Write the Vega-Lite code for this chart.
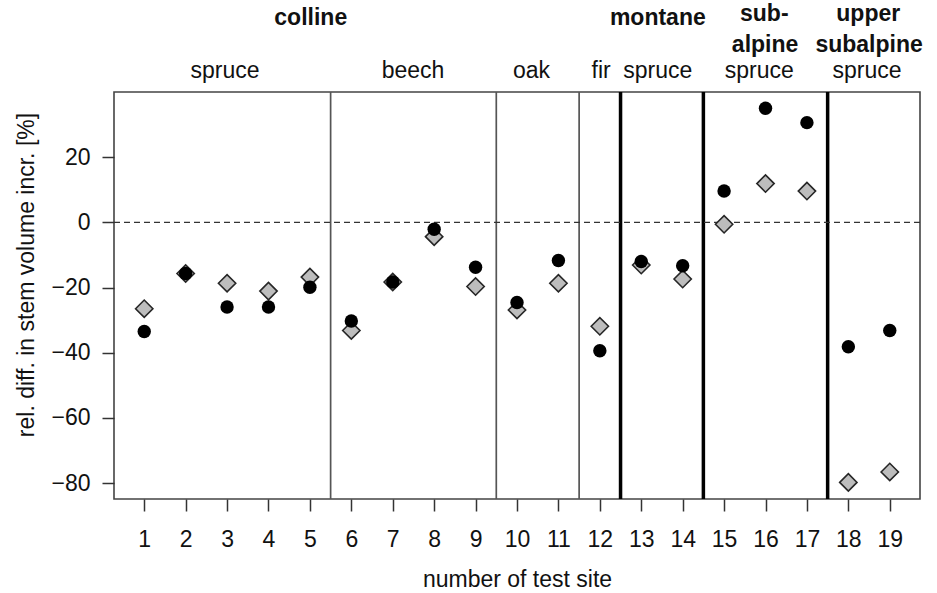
{
  "$schema": "https://vega.github.io/schema/vega-lite/v6.json",
  "width": 806,
  "height": 407,
  "autosize": {"type": "none"},
  "padding": {"left": 114, "top": 92, "right": 17, "bottom": 94},
  "background": "white",
  "config": {
    "view": {"stroke": "#444444", "strokeWidth": 1.6},
    "font": "Liberation Sans",
    "axis": {
      "labelFont": "Liberation Sans",
      "titleFont": "Liberation Sans",
      "labelFontSize": 23,
      "titleFontSize": 23,
      "titleFontWeight": "normal",
      "labelColor": "#111111",
      "titleColor": "#111111",
      "domain": false,
      "grid": false,
      "tickColor": "#333333",
      "tickWidth": 1.5,
      "tickSize": 12
    }
  },
  "datasets": {
    "points": [
      {"site": 1, "series": "circle", "value": -33.5},
      {"site": 2, "series": "circle", "value": -15.7},
      {"site": 3, "series": "circle", "value": -26.0},
      {"site": 4, "series": "circle", "value": -26.0},
      {"site": 5, "series": "circle", "value": -19.9},
      {"site": 6, "series": "circle", "value": -30.3},
      {"site": 7, "series": "circle", "value": -18.3},
      {"site": 8, "series": "circle", "value": -2.1},
      {"site": 9, "series": "circle", "value": -13.8},
      {"site": 10, "series": "circle", "value": -24.6},
      {"site": 11, "series": "circle", "value": -11.7},
      {"site": 12, "series": "circle", "value": -39.4},
      {"site": 13, "series": "circle", "value": -12.0},
      {"site": 14, "series": "circle", "value": -13.3},
      {"site": 15, "series": "circle", "value": 9.6},
      {"site": 16, "series": "circle", "value": 35.0},
      {"site": 17, "series": "circle", "value": 30.6},
      {"site": 18, "series": "circle", "value": -38.2},
      {"site": 19, "series": "circle", "value": -33.2},
      {"site": 1, "series": "diamond", "value": -26.5},
      {"site": 2, "series": "diamond", "value": -15.7},
      {"site": 3, "series": "diamond", "value": -18.7},
      {"site": 4, "series": "diamond", "value": -21.1},
      {"site": 5, "series": "diamond", "value": -16.8},
      {"site": 6, "series": "diamond", "value": -33.2},
      {"site": 7, "series": "diamond", "value": -18.3},
      {"site": 8, "series": "diamond", "value": -4.4},
      {"site": 9, "series": "diamond", "value": -19.7},
      {"site": 10, "series": "diamond", "value": -26.9},
      {"site": 11, "series": "diamond", "value": -18.7},
      {"site": 12, "series": "diamond", "value": -31.9},
      {"site": 13, "series": "diamond", "value": -13.1},
      {"site": 14, "series": "diamond", "value": -17.4},
      {"site": 15, "series": "diamond", "value": -0.6},
      {"site": 16, "series": "diamond", "value": 11.9},
      {"site": 17, "series": "diamond", "value": 9.6},
      {"site": 18, "series": "diamond", "value": -79.8},
      {"site": 19, "series": "diamond", "value": -76.6}
    ],
    "dividers": [
      {"pos": 5.5, "kind": "thin"},
      {"pos": 9.5, "kind": "thin"},
      {"pos": 11.5, "kind": "thin"},
      {"pos": 12.5, "kind": "thick"},
      {"pos": 14.5, "kind": "thick"},
      {"pos": 17.5, "kind": "thick"}
    ],
    "labels": [
      {"text": "colline", "x": 5.02, "y": 60.5, "bold": true},
      {"text": "montane", "x": 13.4, "y": 60.5, "bold": true},
      {"text": "sub-", "x": 15.97, "y": 61.7, "bold": true},
      {"text": "alpine", "x": 15.99, "y": 52.2, "bold": true},
      {"text": "upper", "x": 18.48, "y": 61.7, "bold": true},
      {"text": "subalpine", "x": 18.5, "y": 52.2, "bold": true},
      {"text": "spruce", "x": 2.95, "y": 44.3, "bold": false},
      {"text": "beech", "x": 7.49, "y": 44.3, "bold": false},
      {"text": "oak", "x": 10.35, "y": 44.3, "bold": false},
      {"text": "fir", "x": 12.03, "y": 44.3, "bold": false},
      {"text": "spruce", "x": 13.4, "y": 44.3, "bold": false},
      {"text": "spruce", "x": 15.85, "y": 44.3, "bold": false},
      {"text": "spruce", "x": 18.45, "y": 44.3, "bold": false}
    ]
  },
  "layer": [
    {
      "data": {"name": "dividers"},
      "transform": [{"filter": "datum.kind === 'thin'"}],
      "mark": {"type": "rule", "color": "#555555", "strokeWidth": 1.7},
      "encoding": {
        "x": {"field": "pos", "type": "quantitative", "scale": {"domain": [0.27, 19.73], "nice": false, "zero": false},
          "axis": {"values": [1,2,3,4,5,6,7,8,9,10,11,12,13,14,15,16,17,18,19], "format": "d", "labelPadding": 17, "title": "number of test site", "titleY": 87, "titleBaseline": "alphabetic", "labelFlush": false}}
      }
    },
    {
      "data": {"name": "dividers"},
      "transform": [{"filter": "datum.kind === 'thick'"}],
      "mark": {"type": "rule", "color": "#000000", "strokeWidth": 3.5},
      "encoding": {
        "x": {"field": "pos", "type": "quantitative"}
      }
    },
    {
      "data": {"values": [{"zero": 0}]},
      "mark": {"type": "rule", "color": "#333333", "strokeWidth": 1.3, "strokeDash": [6, 4]},
      "encoding": {
        "y": {"field": "zero", "type": "quantitative"}
      }
    },
    {
      "data": {"name": "points"},
      "transform": [{"filter": "datum.series === 'diamond'"}],
      "mark": {"type": "point", "shape": "diamond", "filled": true, "fill": "#bdbdbd", "stroke": "#262626", "strokeWidth": 1.6, "size": 300, "opacity": 1},
      "encoding": {
        "x": {"field": "site", "type": "quantitative"},
        "y": {"field": "value", "type": "quantitative", "scale": {"domain": [-84.9, 40], "nice": false, "zero": false},
          "axis": {"values": [-80, -60, -40, -20, 0, 20], "labelPadding": 12, "title": "rel. diff. in stem volume incr. [%]", "titleAngle": 270, "titleX": -80.7, "titleY": 182.5, "titleAlign": "center", "titleBaseline": "alphabetic"}}
      }
    },
    {
      "data": {"name": "points"},
      "transform": [{"filter": "datum.series === 'circle'"}],
      "mark": {"type": "circle", "color": "#000000", "size": 180, "opacity": 1},
      "encoding": {
        "x": {"field": "site", "type": "quantitative"},
        "y": {"field": "value", "type": "quantitative"}
      }
    },
    {
      "data": {"name": "labels"},
      "transform": [{"filter": "datum.bold"}],
      "mark": {"type": "text", "font": "Liberation Sans", "fontSize": 23, "fontWeight": "bold", "color": "#111111", "baseline": "alphabetic", "align": "center"},
      "encoding": {
        "x": {"field": "x", "type": "quantitative"},
        "y": {"field": "y", "type": "quantitative"},
        "text": {"field": "text"}
      }
    },
    {
      "data": {"name": "labels"},
      "transform": [{"filter": "!datum.bold"}],
      "mark": {"type": "text", "font": "Liberation Sans", "fontSize": 23, "color": "#111111", "baseline": "alphabetic", "align": "center"},
      "encoding": {
        "x": {"field": "x", "type": "quantitative"},
        "y": {"field": "y", "type": "quantitative"},
        "text": {"field": "text"}
      }
    }
  ]
}
